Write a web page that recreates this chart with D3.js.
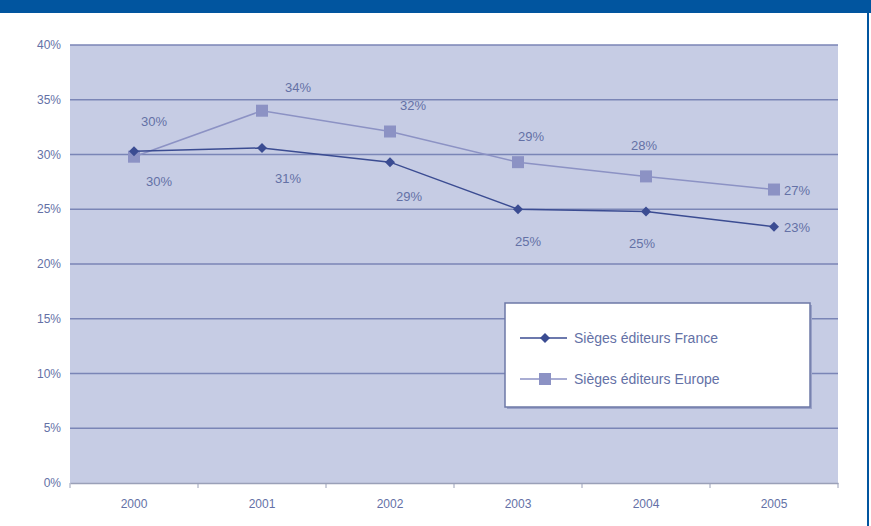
<!DOCTYPE html>
<html>
  <head>
    <script src="https://d3js.org/d3.v7.min.js"></script>
    <style>
      body { margin: 0; background-color: #fff; }
      svg { display: block; font-family: 'Liberation Sans', Arial, sans-serif; }
    </style>
  </head>
  <body>
    <svg id="canvas" width="871" height="526"></svg>
  </body>

  <script>
    // data
    const years = ['2000', '2001', '2002', '2003', '2004', '2005']
    const france = [30.3, 30.6, 29.3, 25.0, 24.8, 23.4]
    const europe = [29.8, 34.0, 32.1, 29.3, 28.0, 26.8]
    const franceLabels = ['30%', '31%', '29%', '25%', '25%', '23%']
    const europeLabels = ['30%', '34%', '32%', '29%', '28%', '27%']
    const yTicks = [0, 5, 10, 15, 20, 25, 30, 35, 40]
    const seriesNames = ['Sièges éditeurs France', 'Sièges éditeurs Europe']

    const margin = { top: 45, right: 33, bottom: 43, left: 70 }
    const svg = d3.select('#canvas')
    const width = 871 - margin.left - margin.right
    const height = 526 - margin.top - margin.bottom

    const textColor = '#6471a6'
    const franceColor = '#3b4c92'
    const europeColor = '#8c92c4'

    // top banner and right border
    svg.append('rect').attr('x', 0).attr('y', 0).attr('width', 871).attr('height', 13).attr('fill', '#01559f')
    svg.append('rect').attr('x', 867).attr('y', 0).attr('width', 2).attr('height', 526).attr('fill', '#01559f')

    const g = svg.append('g').attr('transform', `translate(${margin.left}, ${margin.top})`)

    const x = d3.scaleBand().domain(years).range([0, width])
    const y = d3.scaleLinear().domain([0, 40]).range([height, 0])
    const cx = d => x(d) + x.bandwidth() / 2

    g.append('rect').attr('width', width).attr('height', height).attr('fill', '#c6cce4')

    // gridlines
    g.append('g').selectAll('line').data(yTicks.filter(t => t > 0)).enter()
      .append('line')
        .attr('x1', 0).attr('x2', width)
        .attr('y1', d => y(d)).attr('y2', d => y(d))
        .attr('stroke', '#7a85b6').attr('stroke-width', 1.5)

    // y axis labels
    g.append('g').selectAll('text').data(yTicks).enter()
      .append('text')
        .attr('x', -9).attr('y', d => y(d) + 4)
        .attr('text-anchor', 'end')
        .attr('fill', textColor).attr('font-size', 12)
        .text(d => d + '%')

    // x axis
    const xAxis = g.append('g').attr('transform', `translate(0, ${height})`)
      .call(d3.axisBottom(x).tickSize(0).tickPadding(16))
    xAxis.select('.domain').attr('stroke', '#9aa0b8').attr('stroke-width', 1.5)
    xAxis.selectAll('text').attr('fill', textColor).attr('font-size', 12).attr('font-family', "'Liberation Sans', Arial, sans-serif")
    xAxis.selectAll('.sep').data(d3.range(years.length + 1)).enter()
      .append('line').attr('class', 'sep')
        .attr('x1', i => i * x.bandwidth()).attr('x2', i => i * x.bandwidth())
        .attr('y1', 0).attr('y2', 5)
        .attr('stroke', '#9aa0b8')

    const line = d3.line().x((d, i) => cx(years[i])).y(d => y(d))

    // europe series
    g.append('path').datum(europe).attr('d', line)
      .attr('fill', 'none').attr('stroke', europeColor).attr('stroke-width', 1.5)
    g.append('g').selectAll('rect').data(europe).enter()
      .append('rect')
        .attr('x', (d, i) => cx(years[i]) - 6).attr('y', d => y(d) - 6)
        .attr('width', 12).attr('height', 12)
        .attr('fill', europeColor)

    // france series
    g.append('path').datum(france).attr('d', line)
      .attr('fill', 'none').attr('stroke', franceColor).attr('stroke-width', 1.5)
    const diamond = d3.symbol().type(d3.symbolSquare).size(50)
    g.append('g').selectAll('path').data(france).enter()
      .append('path')
        .attr('d', diamond)
        .attr('transform', (d, i) => `translate(${cx(years[i])}, ${y(d)}) rotate(45)`)
        .attr('fill', franceColor)

    // data labels
    const labelFont = 13
    const euroOff = [[20, -31], [36, -19], [23, -22], [13, -21], [-2, -26], [null, 4]]
    const franceOff = [[25, 35], [26, 35], [19, 39], [10, 37], [-4, 37], [null, 4]]
    const addLabels = (vals, labels, offs) => {
      g.append('g').selectAll('text').data(vals).enter()
        .append('text')
          .attr('x', (d, i) => offs[i][0] === null ? cx(years[i]) + 10 : cx(years[i]) + offs[i][0])
          .attr('y', (d, i) => y(d) + offs[i][1] + (offs[i][0] === null ? 1 : 0))
          .attr('text-anchor', (d, i) => offs[i][0] === null ? 'start' : 'middle')
          .attr('fill', textColor).attr('font-size', labelFont)
          .text((d, i) => labels[i])
    }
    addLabels(europe, europeLabels, euroOff)
    addLabels(france, franceLabels, franceOff)

    // legend
    const lg = svg.append('g').attr('transform', 'translate(505, 303)')
    lg.append('rect').attr('x', 2).attr('y', 2).attr('width', 305).attr('height', 104).attr('fill', '#9aa2c8')
    lg.append('rect').attr('width', 305).attr('height', 104)
      .attr('fill', '#fff').attr('stroke', '#6d78a6').attr('stroke-width', 1.5)
    const entries = [
      { name: seriesNames[0], color: franceColor, shape: 'diamond' },
      { name: seriesNames[1], color: europeColor, shape: 'square' }
    ]
    entries.forEach((e, i) => {
      const ey = 35 + i * 41
      lg.append('line').attr('x1', 15).attr('x2', 62).attr('y1', ey).attr('y2', ey)
        .attr('stroke', e.color).attr('stroke-width', 1.5)
      if (e.shape === 'diamond') {
        lg.append('path').attr('d', diamond).attr('transform', `translate(40, ${ey}) rotate(45)`).attr('fill', e.color)
      } else {
        lg.append('rect').attr('x', 34).attr('y', ey - 6).attr('width', 12).attr('height', 12).attr('fill', e.color)
      }
      lg.append('text').attr('x', 69).attr('y', ey + 5)
        .attr('fill', textColor).attr('font-size', 14)
        .text(e.name)
    })
  </script>
</html>
